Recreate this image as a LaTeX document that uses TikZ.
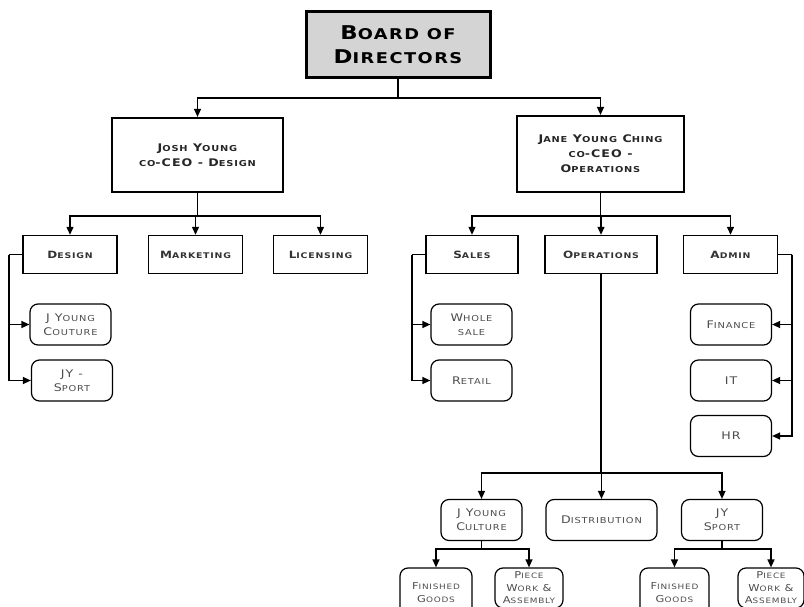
\documentclass[tikz,border=0pt]{standalone}
\usepackage{fontspec}
\setmainfont{DejaVu Sans}[FakeStretch=1.2, LetterSpace=10]
\usetikzlibrary{arrows.meta}

% fake small caps: the argument is set smaller than the current size
\makeatletter
\newcommand\lo[1]{{\@tempdima=\f@size pt\relax\@tempdima=0.78\@tempdima\fontsize{\strip@pt\@tempdima}{\z@}\selectfont#1}}
\makeatother

\tikzset{
  topbox/.style={draw, line width=3pt, fill=black!17, minimum width=184pt, minimum height=66pt,
    inner sep=0pt, align=center, font=\fontsize{19}{24}\selectfont\bfseries},
  ceobox/.style={draw, line width=2.2pt, inner sep=0pt, align=center,
    font=\fontsize{10.5}{15}\selectfont\bfseries, text=black!85},
  deptbox/.style={draw, line width=1.4pt, minimum width=94pt, minimum height=38pt, inner sep=0pt,
    align=center, font=\fontsize{10}{13}\selectfont\bfseries, text=black!80},
  unitbox/.style={draw, line width=1.2pt, rounded corners=8pt, minimum width=81pt, minimum height=41pt,
    inner sep=0pt, align=center, font=\fontsize{10.5}{14}\selectfont, text=black!70},
  link/.style={line width=1.3pt},
  arr/.style={line width=1.3pt, -{Triangle[length=8pt,width=7pt]}},
}

\begin{document}
\begin{tikzpicture}[x=1pt,y=-1pt]
\useasboundingbox (0,0) rectangle (804,607);
\clip (0,0) rectangle (804,607);

% top of the chart
\node[topbox] (board) at (398,45) {B\lo{OARD OF}\\D\lo{IRECTORS}};
\node[ceobox, minimum width=171pt, minimum height=74pt] (josh) at (197.5,155)
  {J\lo{OSH} Y\lo{OUNG}\\\lo{CO}-CEO - D\lo{ESIGN}};
\node[ceobox, minimum width=167pt, minimum height=76pt] (jane) at (600.5,154)
  {J\lo{ANE} Y\lo{OUNG} C\lo{HING}\\\lo{CO}-CEO -\\O\lo{PERATIONS}};

\coordinate (bsplit) at (398,98);
\draw[link] (board.south) -- (bsplit);
\draw[arr] (bsplit) -| (josh.north);
\draw[arr] (bsplit) -| (jane.north);

% design side
\node[deptbox] (design) at (70,254.5) {D\lo{ESIGN}};
\node[deptbox] (mkt) at (195.5,254.5) {M\lo{ARKETING}};
\node[deptbox] (lic) at (320.5,254.5) {L\lo{ICENSING}};

\coordinate (jsplit) at (197.5,216);
\draw[link] (josh.south) -- (jsplit);
\draw[arr] (jsplit) -| (design.north);
\draw[arr] (jsplit) -| (mkt.north);
\draw[arr] (jsplit) -| (lic.north);

\node[unitbox] (couture) at (70.5,324.5) {J Y\lo{OUNG}\\C\lo{OUTURE}};
\node[unitbox] (sport) at (72,380.5) {JY -\\S\lo{PORT}};
\coordinate (dside) at (9,254.5);
\draw[link] (design.west) -- (dside);
\draw[arr] (dside) |- (couture.west);
\draw[arr] (dside) |- (sport.west);

% operations side
\node[deptbox, minimum width=92pt] (sales) at (472,254.5) {S\lo{ALES}};
\node[deptbox, minimum width=112pt] (ops) at (601,254.5) {O\lo{PERATIONS}};
\node[deptbox] (admin) at (730.5,254.5) {A\lo{DMIN}};

\coordinate (osplit) at (600.5,216);
\draw[link] (jane.south) -- (osplit);
\draw[arr] (osplit) -| (sales.north);
\draw[arr] (osplit) -| (ops.north);
\draw[arr] (osplit) -| (admin.north);

\node[unitbox] (whole) at (471.5,324.5) {W\lo{HOLE}\\\lo{SALE}};
\node[unitbox] (retail) at (471.5,380.5) {R\lo{ETAIL}};
\coordinate (sside) at (412,254.5);
\draw[link] (sales.west) -- (sside);
\draw[arr] (sside) |- (whole.west);
\draw[arr] (sside) |- (retail.west);

\node[unitbox] (finance) at (731,324.5) {F\lo{INANCE}};
\node[unitbox] (it) at (731,380.5) {IT};
\node[unitbox] (hr) at (731,436) {HR};
\coordinate (aside) at (792,254.5);
\draw[link] (admin.east) -- (aside);
\draw[arr] (aside) |- (finance.east);
\draw[arr] (aside) |- (it.east);
\draw[arr] (aside) |- (hr.east);

% brands under operations
\node[unitbox] (culture) at (481.5,520) {J Y\lo{OUNG}\\C\lo{ULTURE}};
\node[unitbox, minimum width=111pt] (dist) at (601.5,520) {D\lo{ISTRIBUTION}};
\node[unitbox] (jysport) at (722,520) {JY\\S\lo{PORT}};
\coordinate (bsplit2) at (601,473);
\draw[link] (ops.south) -- (bsplit2);
\draw[arr] (bsplit2) -| (culture.north);
\draw[arr] (bsplit2) -| (dist.north);
\draw[arr] (bsplit2) -| (jysport.north);

% production units (their lower edges run past the page)
\node[unitbox, minimum width=72pt, minimum height=50pt, font=\fontsize{9.5}{13}\selectfont] (fg1) at (436,593) {F\lo{INISHED}\\G\lo{OODS}};
\node[unitbox, minimum width=68pt, minimum height=40pt, font=\fontsize{9.5}{12.5}\selectfont] (pw1) at (529,588) {P\lo{IECE}\\W\lo{ORK} \&\\A\lo{SSEMBLY}};
\node[unitbox, minimum width=69pt, minimum height=50pt, font=\fontsize{9.5}{13}\selectfont] (fg2) at (674.5,593) {F\lo{INISHED}\\G\lo{OODS}};
\node[unitbox, minimum width=66pt, minimum height=40pt, font=\fontsize{9.5}{12.5}\selectfont] (pw2) at (771,588) {P\lo{IECE}\\W\lo{ORK} \&\\A\lo{SSEMBLY}};

\coordinate (csplit) at (481.5,549);
\draw[link] (culture.south) -- (csplit);
\draw[arr] (csplit) -| (fg1.north);
\draw[arr] (csplit) -| (pw1.north);

\coordinate (ssplit) at (722,549);
\draw[link] (jysport.south) -- (ssplit);
\draw[arr] (ssplit) -| (fg2.north);
\draw[arr] (ssplit) -| (pw2.north);
\end{tikzpicture}
\end{document}
